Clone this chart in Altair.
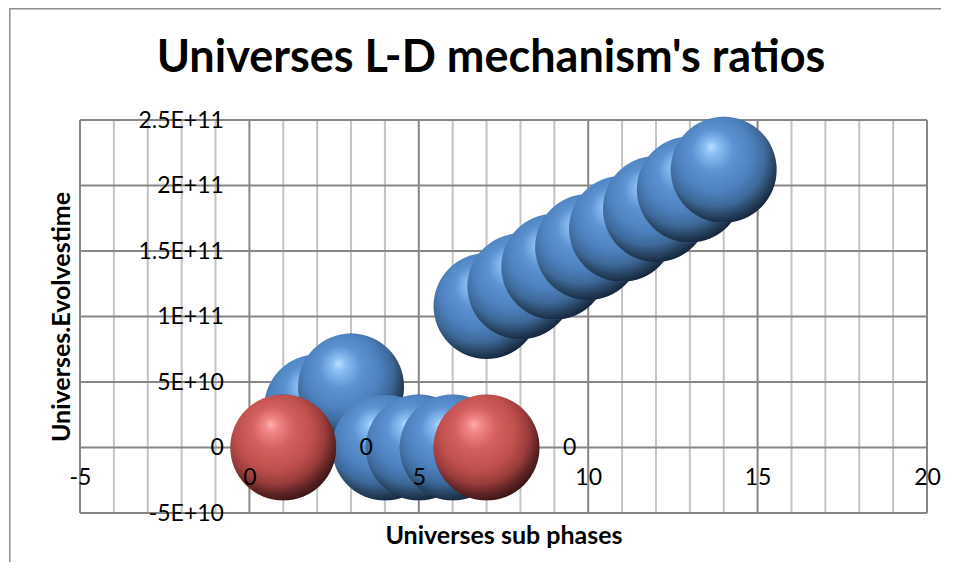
import altair as alt
import pandas as pd

# ---- data ----
blue_x = [2, 3, 4, 5, 6, 7, 8, 9, 10, 11, 12, 13, 14]
blue_y = [3.05e10, 4.65e10, 0, 0, 0, 1.08e11, 1.23e11, 1.38e11, 1.53e11,
          1.67e11, 1.82e11, 1.97e11, 2.12e11]
red_x = [1, 7]
red_y = [0, 0]

x_domain = [-5, 20]
y_domain = [-5e10, 2.5e11]
x_grid = list(range(-5, 21))
x_label_ticks = [-5, 0, 5, 10, 15, 20]
x_labels = ["-5", "0", "5", "10", "15", "20"]
y_ticks = [-5e10, 0, 5e10, 1e11, 1.5e11, 2e11, 2.5e11]
y_labels = ["-5E+10", "0", "5E+10", "1E+11", "1.5E+11", "2E+11", "2.5E+11"]
title_text = "Universes L-D mechanism's ratios"

W, H = 847, 393
PAD_BOTTOM = 50
FONT = "Lato"
TICK_FS = 23
AXT_FS = 25
BUBBLE = 106 * 106  # Vega circle: size = diameter^2

df = pd.DataFrame({
    "x": blue_x + red_x,
    "y": blue_y + red_y,
    "series": ["blue"] * len(blue_x) + ["red"] * len(red_x),
})
xgrid_df = pd.DataFrame({"v": x_grid})
ygrid_df = pd.DataFrame({"v": y_ticks})


def ternary(vals, labs):
    parts = [f"datum.value == {v!r} ? '{l}'" for v, l in zip(vals, labs)]
    return " : ".join(parts) + " : ''"


x_scale = alt.Scale(domain=x_domain, nice=False, zero=False)
y_scale = alt.Scale(domain=y_domain, nice=False, zero=False)

# pixel positions of the zero lines inside the plot area
zero_x_px = (0 - x_domain[0]) / (x_domain[1] - x_domain[0]) * W
zero_y_px = (1 - (0 - y_domain[0]) / (y_domain[1] - y_domain[0])) * H

x_axis = alt.Axis(
    values=x_label_ticks, labelExpr=ternary(x_label_ticks, x_labels),
    grid=False, domain=False, ticks=False, labelFlush=False, labelOverlap=False,
    labelFont=FONT, labelFontSize=TICK_FS, labelColor="#000000", labelPadding=19,
    offset=-(H - zero_y_px), zindex=1,
    title="Universes sub phases", titleFont=FONT, titleFontSize=AXT_FS,
    titleFontWeight="bold", titleColor="#000000",
    titleX=W / 2, titleY=H - zero_y_px + 22, titleBaseline="middle",
)
y_axis = alt.Axis(
    values=y_ticks, labelExpr=ternary(y_ticks, y_labels),
    grid=False, domain=False, ticks=False, labelFlush=False, labelOverlap=False,
    labelFont=FONT, labelFontSize=TICK_FS, labelColor="#000000", labelPadding=26,
    offset=-zero_x_px, zindex=1,
    title="Universes.Evolvestime", titleFont=FONT, titleFontSize=AXT_FS,
    titleFontWeight="bold", titleColor="#000000",
    titleX=61 - 80 - zero_x_px, titleY=H / 2, titleBaseline="middle",
)


def sphere(stops):
    return alt.RadialGradient(
        gradient="radial",
        x1=0.38, y1=0.28, r1=0,
        x2=0.44, y2=0.40, r2=0.62,
        stops=[alt.GradientStop(offset=o, color=c) for o, c in stops],
    )


blue_fill = sphere([(0, "#b8e0ff"), (0.1, "#8cc0f4"), (0.32, "#5d93d3"),
                    (0.58, "#4d80be"), (0.76, "#3d6899"), (0.88, "#284563"),
                    (1, "#13233a")])
red_fill = sphere([(0, "#ffb0b0"), (0.1, "#f28888"), (0.32, "#d45f5e"),
                   (0.58, "#bf504d"), (0.76, "#9a3c3b"), (0.88, "#632525"),
                   (1, "#381313")])

vgrid = alt.Chart(xgrid_df).mark_rule(strokeWidth=2).encode(
    x=alt.X("v:Q", scale=x_scale, axis=x_axis),
    color=alt.condition("datum.v % 5 === 0", alt.value("#878787"),
                        alt.value("#c3c3c3")),
)
hgrid = alt.Chart(ygrid_df).mark_rule(strokeWidth=2, color="#878787").encode(
    y=alt.Y("v:Q", scale=y_scale, axis=y_axis),
)

base = alt.Chart(df).encode(
    x=alt.X("x:Q", scale=x_scale, axis=x_axis),
    y=alt.Y("y:Q", scale=y_scale, axis=y_axis),
)
blue = base.transform_filter("datum.series == 'blue'").mark_circle(
    size=BUBBLE, fill=blue_fill, opacity=1, strokeWidth=0)
red = base.transform_filter("datum.series == 'red'").mark_circle(
    size=BUBBLE, fill=red_fill, opacity=1, strokeWidth=0)
labels = base.transform_filter("datum.series == 'red'").mark_text(
    dx=83, font=FONT, fontSize=TICK_FS, color="#000000", align="center",
    baseline="middle").encode(text=alt.Text("y:Q", format="d"))

one = pd.DataFrame({"t": [title_text]})
# outer chart frame (left and top edges), drawn as thin filled bars
frame_left = alt.Chart(one).mark_rect(fill="#8e8e8e", strokeWidth=0).encode(
    x=alt.value(-71), x2=alt.value(-69.5), y=alt.value(-112),
    y2=alt.value(H + PAD_BOTTOM - 1))
frame_top = alt.Chart(one).mark_rect(fill="#8e8e8e", strokeWidth=0).encode(
    x=alt.value(-71), x2=alt.value(861), y=alt.value(-112),
    y2=alt.value(-110.5))
title = alt.Chart(one).mark_text(
    font=FONT, fontSize=45, fontWeight="bold", color="#000000",
    align="center", baseline="alphabetic").encode(
    text="t:N", x=alt.value(411), y=alt.value(-48))

chart = alt.layer(frame_left, frame_top, vgrid, hgrid, blue, red, labels,
                  title).properties(
    width=W, height=H,
    autosize=alt.AutoSizeParams(type="none"),
    padding={"left": 72, "top": 112, "right": 14, "bottom": PAD_BOTTOM},
).configure_view(stroke=None).configure(background="#ffffff")

chart.save("out.html", embed_options={"renderer": "svg", "actions": False})
